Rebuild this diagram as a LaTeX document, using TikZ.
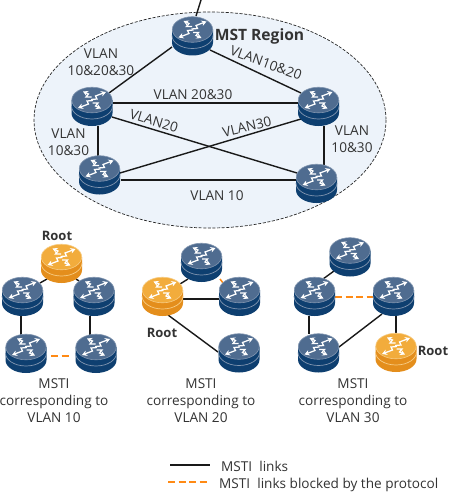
\documentclass[tikz,border=0pt]{standalone}
\usepackage{fontspec}
\setmainfont{Open Sans}
\usetikzlibrary{arrows.meta}
\definecolor{regionfill}{HTML}{EDF3FA}
\definecolor{txt}{HTML}{333333}
\definecolor{bluetop}{HTML}{4F6C90}
\definecolor{bluerim}{HTML}{8296B0}
\definecolor{bluebody}{HTML}{0E3F70}
\definecolor{orangetop}{HTML}{F2AC3C}
\definecolor{orangerim}{HTML}{F7CD85}
\definecolor{orangebody}{HTML}{E48E1C}
\definecolor{blockline}{HTML}{FF8A14}
\tikzset{
  box/.style={minimum width=41pt,minimum height=39pt,inner sep=0pt,outer sep=0pt},
  link/.style={draw=black!90,line width=1.4pt},
  blocked/.style={draw=blockline,line width=1.5pt,dash pattern=on 7pt off 3.5pt},
  lbl/.style={font=\fontsize{13.6}{17}\selectfont,text=txt,inner sep=0pt,align=center},
  boldlbl/.style={font=\fontsize{13}{15}\selectfont\bfseries,text=txt,inner sep=0pt},
  icon/.style={draw=white,line width=1.25pt,-{Stealth[length=5pt,width=5.6pt]}}
}
\newcommand{\routerdraw}[4]{%
  \begin{scope}[shift={(#1.center)}]
    \fill[#4] (-20.5,-6.5) -- (-20.5,6.5) arc[start angle=180,end angle=0,x radius=20.5,y radius=13] -- (20.5,-6.5) -- cycle;
    \draw[#3,line width=.7pt] (-20.5,-0.5) arc[start angle=180,end angle=0,x radius=20.5,y radius=13];
    \fill[#2,draw=#3,line width=.6pt] (0,-6.5) ellipse[x radius=20.2,y radius=12.8];
    \begin{scope}[shift={(0,-6.5)}]
      \draw[icon] (-1,-0.5) -- (5,-1) -- (3.5,-4) -- (14,-8);
      \draw[icon] (1,0.5) -- (-5,1) -- (-3.5,4) -- (-14,8);
      \draw[icon] (-0.5,-3) -- (-6,-3) -- (-3.5,-6) -- (-9,-8.5);
      \draw[icon] (0.5,3) -- (6,3) -- (3.5,6) -- (9,8.5);
    \end{scope}
  \end{scope}}
\newcommand{\linkends}[5]{\path[#1] ([shift={(#3)}]#2.center) -- ([shift={(#5)}]#4.center);}
\begin{document}
\begin{tikzpicture}[x=1pt,y=-1pt]
\useasboundingbox (0,0) rectangle (450,495);
\fill[white] (0,0) rectangle (450,495);
\draw[fill=regionfill,draw=black!85,line width=.7pt,dash pattern=on 3pt off 1.6pt] (210,120) ellipse[x radius=176,y radius=108];
% router places
\node[box] (R1) at (192.5,36) {};
\node[box] (R2) at (92,106.5) {};
\node[box] (R3) at (99.5,175) {};
\node[box] (R4) at (318.5,106.5) {};
\node[box] (R5) at (316.5,183.5) {};
\node[box] (A0) at (61.5,263.5) {};
\node[box] (A1) at (22.5,296.5) {};
\node[box] (A2) at (94,296.5) {};
\node[box] (A3) at (26,353.5) {};
\node[box] (A4) at (96,353.5) {};
\node[box] (B0) at (162.5,296.5) {};
\node[box] (B1) at (201.5,262.5) {};
\node[box] (B2) at (239.5,296.5) {};
\node[box] (B3) at (239,353) {};
\node[box] (C1) at (350,257) {};
\node[box] (C2) at (314.5,296.5) {};
\node[box] (C3) at (393.5,296.5) {};
\node[box] (C4) at (318.5,353) {};
\node[box] (C0) at (396,352.5) {};
\coordinate (up) at (201,0);
\coordinate (l1a) at (170,465);
\coordinate (l1b) at (210,465);
\coordinate (l2a) at (168,482);
\coordinate (l2b) at (210,482);
% connectors
\draw[link] (up) -- ([shift={(3.5,-20)}]R1.center);
\linkends{link}{R1}{-20.5,11}{R2}{17,-13.5}
\linkends{link}{R1}{17.5,14}{R4}{-17.5,-13.5}
\linkends{link}{R2}{21,-3.5}{R4}{-21,-3.5}
\linkends{link}{R3}{21,5}{R5}{-21,-3.5}
\linkends{link}{R2}{20,10.5}{R5}{-19.5,-10.5}
\linkends{link}{R3}{20.5,-2}{R4}{-17.5,12.5}
\linkends{link}{R2}{6,19}{R3}{-1.5,-19.5}
\linkends{link}{R4}{5.5,19}{R5}{7.5,-19}
\linkends{link}{A0}{-14.5,15.5}{A1}{17.5,-13.5}
\linkends{link}{A0}{14.5,15.5}{A2}{-15,-15.5}
\linkends{link}{A1}{-1.5,19}{A3}{-5,-19}
\linkends{link}{A2}{-4,19}{A4}{-6,-19}
\linkends{blocked}{A3}{25,2.5}{A4}{-25,2.5}
\linkends{link}{B0}{17.5,-12.5}{B1}{-13.5,16.5}
\linkends{link}{B0}{20.5,2.5}{B2}{-20.5,2.5}
\linkends{link}{B0}{5.5,18.5}{B3}{-21,-1}
\linkends{blocked}{B1}{18.5,16.5}{B2}{-16.5,-13.5}
\linkends{link}{C2}{8.5,-17.5}{C1}{-16,14}
\linkends{blocked}{C2}{20.5,.5}{C3}{-20.5,.5}
\linkends{link}{C2}{-5.5,19.5}{C4}{-9.5,-19}
\linkends{link}{C3}{-11.5,17.5}{C4}{20.5,-6}
\linkends{link}{C3}{2.5,19.5}{C0}{0,-19.5}
% routers
\foreach \n in {R1,R2,R3,R4,R5,A1,A2,A3,A4,B1,B2,B3,C1,C2,C3,C4}{\routerdraw{\n}{bluetop}{bluerim}{bluebody}}
\foreach \n in {A0,B0,C0}{\routerdraw{\n}{orangetop}{orangerim}{orangebody}}
% labels
\node[boldlbl,font=\fontsize{15.6}{18}\selectfont\bfseries] (tRegion) at (259.5,36) {MST Region};
\node[lbl] (t1) at (101,62.5) {VLAN\\10\&20\&30};
\node[lbl] (t2) at (193,95) {VLAN 20\&30};
\node[lbl,rotate=-17] (t3) at (154,121) {VLAN20};
\node[lbl] (t4) at (68.5,142) {VLAN\\10\&30};
\node[lbl,rotate=13] (t5) at (247,127) {VLAN30};
\node[lbl,rotate=-20] (t6) at (266,63) {VLAN10\&20};
\node[lbl] (t7) at (352,139.5) {VLAN\\10\&30};
\node[lbl] (t8) at (217,196) {VLAN 10};
\node[boldlbl] (rA) at (57,236) {Root};
\node[boldlbl] (rB) at (162,333) {Root};
\node[boldlbl] (rC) at (433,351) {Root};
\node[lbl] (cA) at (54,400.5) {MSTI\\corresponding to\\VLAN 10};
\node[lbl] (cB) at (201,400.5) {MSTI\\corresponding to\\VLAN 20};
\node[lbl] (cC) at (353,400.5) {MSTI\\corresponding to\\VLAN 30};
\draw[link,line width=1.2pt] (l1a) -- (l1b);
\draw[blocked] (l2a) -- (l2b);
\node[lbl,anchor=west] (k1) at (221,466) {MSTI\ \ links};
\node[lbl,anchor=west] (k2) at (219,485) {MSTI\ \ links blocked by the protocol};
\end{tikzpicture}
\end{document}
